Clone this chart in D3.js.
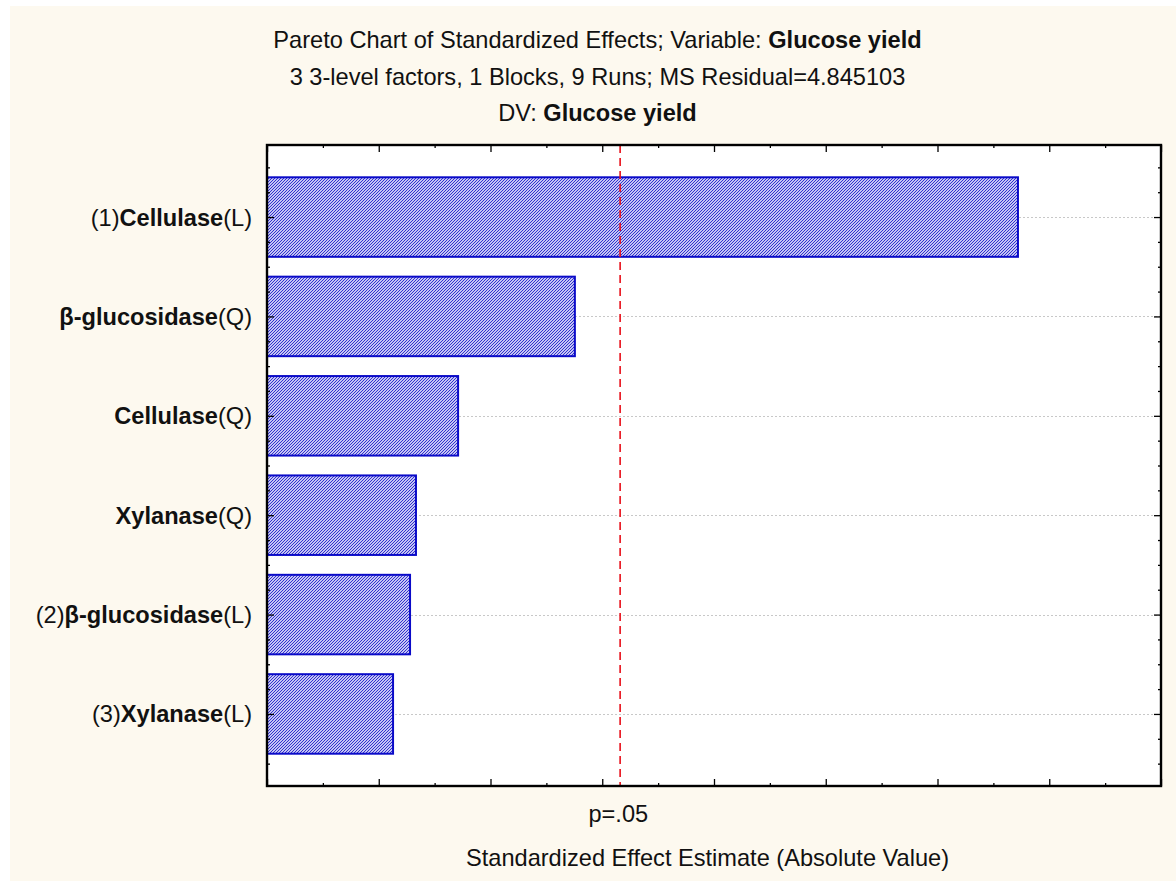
<!DOCTYPE html>
<html>
<head>
<meta charset="utf-8">
<script src="https://cdn.jsdelivr.net/npm/d3@7"></script>
<style>
  html, body { margin: 0; padding: 0; background: #ffffff; }
  svg { display: block; }
  text { font-family: "Liberation Sans", Arial, sans-serif; fill: #111; }
</style>
</head>
<body>
<svg id="chart" width="1176" height="881"></svg>
<script>
// Effect terms, top to bottom, with their standardized effect estimates (absolute value)
const termPrefixes = ["(1)", "", "", "", "(2)", "(3)"];
const termNames    = ["Cellulase", "β-glucosidase", "Cellulase", "Xylanase", "β-glucosidase", "Xylanase"];
const termSuffixes = ["(L)", "(Q)", "(Q)", "(Q)", "(L)", "(L)"];
const effects      = [6.72, 2.755, 1.71, 1.333, 1.28, 1.128];

// Critical value for p = .05
const criticalValue = 3.16;
const criticalLabel = "p=.05";

const titleLines = [
  [["Pareto Chart of Standardized Effects; Variable: ", false], ["Glucose yield", true]],
  [["3 3-level factors, 1 Blocks, 9 Runs; MS Residual=4.845103", false]],
  [["DV: ", false], ["Glucose yield", true]]
];
const xAxisTitle = "Standardized Effect Estimate (Absolute Value)";

const svg = d3.select("#chart");
const W = 1176, H = 881;
const plot = { left: 267, right: 1161, top: 145, bottom: 786 };
const FS = 23.6;

// page background
svg.append("rect").attr("x", 10).attr("y", 6).attr("width", W - 10).attr("height", H - 6)
  .attr("fill", "#fdf9ef");

// hatch pattern for bars
const defs = svg.append("defs");
const pat = defs.append("pattern").attr("id", "hatch")
  .attr("patternUnits", "userSpaceOnUse").attr("width", 3).attr("height", 3);
pat.append("rect").attr("width", 3).attr("height", 3).attr("fill", "#c4c4f4");
pat.append("path").attr("d", "M-1,1 L1,-1 M0,3 L3,0 M2,4 L4,2")
  .attr("stroke", "#2020c8").attr("stroke-width", 0.9);

// scales
const x = d3.scaleLinear().domain([0, 8]).range([plot.left, plot.right]);
const y = d3.scaleLinear().domain([0.275, 6.725]).range([plot.top, plot.bottom]);
const barH = 0.8;

// plot area
svg.append("rect").attr("x", plot.left).attr("y", plot.top)
  .attr("width", plot.right - plot.left).attr("height", plot.bottom - plot.top)
  .attr("fill", "#ffffff");

// horizontal dotted gridlines at term rows
svg.append("g").selectAll("line").data(effects).join("line")
  .attr("x1", plot.left).attr("x2", plot.right)
  .attr("y1", (d, i) => Math.round(y(i + 1)) + 0.5)
  .attr("y2", (d, i) => Math.round(y(i + 1)) + 0.5)
  .attr("stroke", "#c8c8c8").attr("stroke-width", 1).attr("stroke-dasharray", "2,2");

// bars
svg.append("g").selectAll("rect").data(effects).join("rect")
  .attr("x", x(0))
  .attr("y", (d, i) => y(i + 1 - barH / 2))
  .attr("width", d => x(d) - x(0))
  .attr("height", y(barH) - y(0))
  .attr("fill", "url(#hatch)")
  .attr("stroke", "#0a0ac8").attr("stroke-width", 2);

// critical value line
svg.append("line")
  .attr("x1", x(criticalValue)).attr("x2", x(criticalValue))
  .attr("y1", plot.top).attr("y2", plot.bottom)
  .attr("stroke", "#e8101a").attr("stroke-width", 1.6).attr("stroke-dasharray", "8,5");

// axes with inward ticks on all four sides
const xMajor = d3.range(0, 8.01, 1);
const xMinor = d3.range(0.5, 8, 1);
const yMajor = d3.range(1, 7, 1);
const yMinor = d3.range(0.5, 6.6, 0.25).filter(v => !Number.isInteger(v));

function axisGroup(axisFn, scale, vals, size, tx, ty) {
  return svg.append("g").attr("transform", `translate(${tx},${ty})`)
    .call(axisFn(scale).tickValues(vals).tickSize(size).tickFormat(""))
    .call(g => g.select(".domain").remove())
    .call(g => g.selectAll(".tick line").attr("stroke", "#000").attr("stroke-width", 1.3));
}
axisGroup(d3.axisTop, x, xMajor, 7, 0, plot.bottom);
axisGroup(d3.axisTop, x, xMinor, 3, 0, plot.bottom);
axisGroup(d3.axisBottom, x, xMajor, 7, 0, plot.top);
axisGroup(d3.axisBottom, x, xMinor, 3, 0, plot.top);
axisGroup(d3.axisRight, y, yMajor, 7, plot.left, 0);
axisGroup(d3.axisRight, y, yMinor, 3, plot.left, 0);
axisGroup(d3.axisLeft, y, yMajor, 7, plot.right, 0);
axisGroup(d3.axisLeft, y, yMinor, 3, plot.right, 0);

// frame
svg.append("rect").attr("x", plot.left).attr("y", plot.top)
  .attr("width", plot.right - plot.left).attr("height", plot.bottom - plot.top)
  .attr("fill", "none").attr("stroke", "#000").attr("stroke-width", 2.4);

// term labels
const labels = svg.append("g").selectAll("text").data(effects).join("text")
  .attr("x", 252).attr("y", (d, i) => y(i + 1) + 8.5)
  .attr("text-anchor", "end").attr("font-size", FS);
labels.append("tspan").text((d, i) => termPrefixes[i]);
labels.append("tspan").attr("font-weight", "bold").text((d, i) => termNames[i]);
labels.append("tspan").text((d, i) => termSuffixes[i]);

// titles
const titleY = [48, 85, 121];
titleLines.forEach((parts, li) => {
  const t = svg.append("text").attr("x", 597.5).attr("y", titleY[li])
    .attr("text-anchor", "middle").attr("font-size", FS);
  parts.forEach(([s, b]) => t.append("tspan").attr("font-weight", b ? "bold" : "normal").text(s));
});

// critical value label and axis title
svg.append("text").attr("x", x(criticalValue) - 1.8).attr("y", 822).attr("text-anchor", "middle")
  .attr("font-size", FS).text(criticalLabel);
svg.append("text").attr("x", 707.5).attr("y", 866).attr("text-anchor", "middle")
  .attr("font-size", FS).text(xAxisTitle);
</script>
</body>
</html>
